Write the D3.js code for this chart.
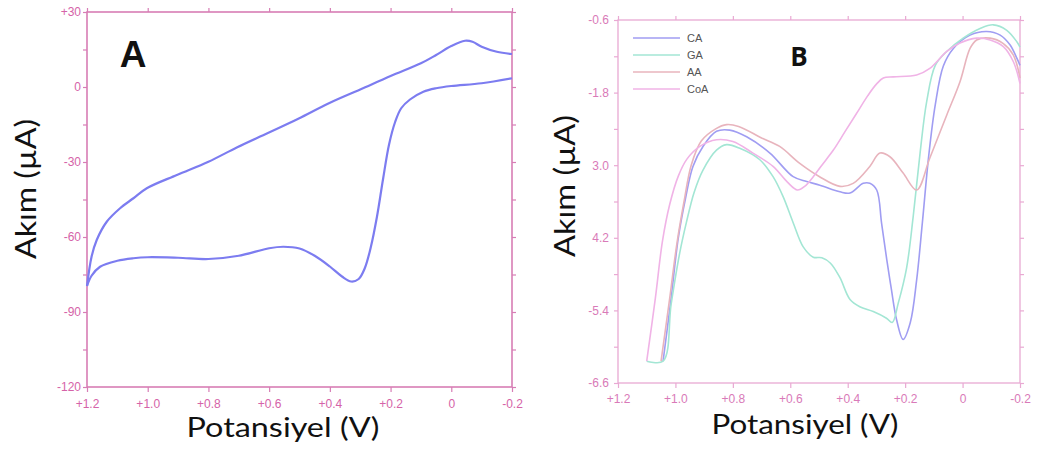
<!DOCTYPE html>
<html>
<head>
<meta charset="utf-8">
<script src="https://cdn.jsdelivr.net/npm/d3@7"></script>
<style>
  body { margin: 0; background: #fff; }
  svg { display: block; }
</style>
</head>
<body>
<svg id="chart" width="1037" height="450"></svg>
<script>
// ---- Axis ticks ----
const potentialTicks = [1.2, 1.0, 0.8, 0.6, 0.4, 0.2, 0, -0.2];
const potentialTickLabels = ["+1.2", "+1.0", "+0.8", "+0.6", "+0.4", "+0.2", "0", "-0.2"];

const currentTicksA = [30, 0, -30, -60, -90, -120];
const currentTickLabelsA = ["+30", "0", "-30", "-60", "-90", "-120"];
const currentMinorA = [15, -15, -45, -75, -105];

const currentTicksB = [-0.6, -1.8, -3.0, -4.2, -5.4, -6.6];
const currentTickLabelsB = ["-0.6", "-1.8", "3.0", "4.2", "-5.4", "-6.6"];
const currentMinorB = [-1.2, -2.4, -3.6, -4.8, -6.0];

// ---- Panel A: cyclic voltammogram, [potential V, current µA] ----
const cvUpperA = [
  [1.2, -79.6], [1.185, -67.9], [1.168, -61.2], [1.135, -53.9], [1.091, -48.5],
  [1.047, -44.5], [1.003, -40.5], [0.904, -35.2], [0.8, -29.9], [0.705, -24.1],
  [0.604, -18.4], [0.504, -12.7], [0.403, -6.5], [0.3, -1.0], [0.2, 4.4],
  [0.1, 9.5], [0.05, 12.8], [0.0, 16.4], [-0.045, 18.5], [-0.07, 18.1],
  [-0.1, 16.1], [-0.15, 14.1], [-0.2, 13.2]
];
const cvLowerA = [
  [1.2, -79.6], [1.185, -75.5], [1.157, -71.9], [1.1, -69.5], [1.047, -68.5],
  [1.0, -68.1], [0.9, -68.3], [0.8, -68.8], [0.7, -67.5], [0.6, -64.5],
  [0.553, -63.9], [0.5, -64.6], [0.45, -67.5], [0.4, -71.8], [0.36, -75.8],
  [0.33, -77.8], [0.305, -76.8], [0.285, -72.5], [0.265, -64.0], [0.245, -52.0],
  [0.225, -37.0], [0.205, -23.0], [0.185, -14.0], [0.165, -8.5], [0.136, -5.0],
  [0.092, -1.9], [0.05, -0.5], [0.0, 0.4], [-0.1, 1.5], [-0.2, 3.5]
];

// ---- Panel B: four acids, [potential V, current µA] ----
const seriesNamesB = ["CA", "GA", "AA", "CoA"];
const caB = [
  [1.043, -6.24], [1.015, -5.2], [0.99, -4.2], [0.965, -3.55],
  [0.939, -3.02], [0.904, -2.69], [0.857, -2.44], [0.811, -2.42], [0.752, -2.53],
  [0.671, -2.80], [0.59, -3.19], [0.543, -3.27], [0.497, -3.33], [0.427, -3.44],
  [0.392, -3.46], [0.346, -3.30], [0.323, -3.30], [0.299, -3.41], [0.282, -3.96],
  [0.264, -4.56], [0.248, -5.05], [0.230, -5.55], [0.207, -5.88], [0.182, -5.6],
  [0.16, -4.9], [0.14, -3.95], [0.118, -2.85], [0.095, -2.0], [0.067, -1.36],
  [0.032, -1.07], [-0.026, -0.85], [-0.084, -0.79], [-0.131, -0.85], [-0.165, -1.01],
  [-0.189, -1.23], [-0.2, -1.35]
];
const gaB = [
  [1.10, -6.24], [1.043, -6.24], [1.015, -5.3], [0.985, -4.45], [0.962, -3.95],
  [0.935, -3.45], [0.904, -3.08], [0.857, -2.75], [0.822, -2.66],
  [0.776, -2.72], [0.706, -2.91], [0.660, -3.19], [0.625, -3.52], [0.590, -3.95],
  [0.555, -4.35], [0.52, -4.52], [0.49, -4.53], [0.46, -4.62], [0.427, -4.86],
  [0.392, -5.22], [0.358, -5.34], [0.311, -5.42], [0.265, -5.53], [0.245, -5.6],
  [0.224, -5.28], [0.195, -4.7], [0.172, -3.85], [0.148, -2.8], [0.125, -1.95],
  [0.095, -1.35], [0.055, -1.12], [-0.002, -0.90], [-0.061, -0.74], [-0.107, -0.68],
  [-0.154, -0.77], [-0.189, -0.96], [-0.2, -1.05]
];
const aaB = [
  [1.05, -6.24], [1.02, -5.2], [0.995, -4.3], [0.97, -3.6],
  [0.945, -3.0], [0.91, -2.6], [0.86, -2.40], [0.822, -2.33], [0.78, -2.36],
  [0.70, -2.55], [0.637, -2.69], [0.567, -2.97], [0.498, -3.19], [0.427, -3.35],
  [0.381, -3.30], [0.323, -3.02], [0.288, -2.80], [0.253, -2.86], [0.207, -3.13],
  [0.16, -3.41], [0.114, -2.88], [0.055, -2.17], [0.009, -1.62], [-0.026, -1.07],
  [-0.049, -0.93], [-0.096, -0.90], [-0.142, -0.99], [-0.177, -1.18], [-0.2, -1.56]
];
const coaB = [
  [1.10, -6.24], [1.07, -5.2], [1.045, -4.25], [1.02, -3.65], [0.99, -3.18],
  [0.96, -2.9], [0.915, -2.69], [0.857, -2.58],
  [0.80, -2.61], [0.73, -2.80], [0.66, -3.02], [0.61, -3.28], [0.575, -3.41],
  [0.55, -3.35], [0.52, -3.19], [0.49, -3.0], [0.45, -2.75], [0.41, -2.45],
  [0.37, -2.15], [0.33, -1.85], [0.30, -1.66], [0.276, -1.56], [0.241, -1.54],
  [0.16, -1.51], [0.114, -1.40], [0.055, -1.12], [0.009, -0.98], [-0.049, -0.90],
  [-0.096, -0.93], [-0.142, -1.04], [-0.177, -1.29], [-0.2, -1.65]
];

const svg = d3.select("#chart");
const titleFont = "Lato, 'Open Sans', sans-serif";

function drawPanel(cfg) {
  const g = svg.append("g");
  const x = d3.scaleLinear().domain([1.2, -0.2]).range([cfg.left, cfg.right]);
  const y = d3.scaleLinear().domain(cfg.yDomain).range([cfg.top, cfg.bottom]);

  const styleAxis = sel => {
    sel.select(".domain").remove();
    sel.selectAll("line").attr("stroke", cfg.axisColor).attr("stroke-width", 1.2);
    sel.selectAll("text")
      .attr("fill", cfg.labelColor)
      .style("font-family", "'Liberation Sans', Arial, sans-serif")
      .style("font-size", "12px");
  };

  g.append("g").attr("transform", `translate(0,${cfg.bottom})`)
    .call(d3.axisBottom(x).tickValues(potentialTicks)
      .tickFormat((d, i) => potentialTickLabels[i]).tickSize(5).tickPadding(cfg.xPad))
    .call(styleAxis);
  g.append("g").attr("transform", `translate(0,${cfg.top})`)
    .call(d3.axisTop(x).tickValues(potentialTicks).tickFormat("").tickSize(4))
    .call(styleAxis);
  g.append("g").attr("transform", `translate(${cfg.left},0)`)
    .call(d3.axisLeft(y).tickValues(cfg.yTicks)
      .tickFormat((d, i) => cfg.yLabels[i]).tickSize(4).tickPadding(cfg.yPad))
    .call(styleAxis);
  g.append("g").attr("transform", `translate(${cfg.left},0)`)
    .call(d3.axisLeft(y).tickValues(cfg.yMinor).tickFormat("").tickSize(4))
    .call(styleAxis);
  g.append("g").attr("transform", `translate(${cfg.right},0)`)
    .call(d3.axisRight(y).tickValues(cfg.yTicks.concat(cfg.yMinor)).tickFormat("").tickSize(4))
    .call(styleAxis);

  // plot frame
  g.append("rect")
    .attr("x", cfg.left).attr("y", cfg.top)
    .attr("width", cfg.right - cfg.left).attr("height", cfg.bottom - cfg.top)
    .attr("fill", "none").attr("stroke", cfg.axisColor).attr("stroke-width", cfg.frameWidth);

  const line = d3.line()
    .x(d => x(d[0])).y(d => y(d[1]))
    .curve(d3.curveCatmullRom.alpha(0.5));

  cfg.series.forEach(s => {
    g.append("path").datum(s.data)
      .attr("d", line)
      .attr("fill", "none")
      .attr("stroke", s.color)
      .attr("stroke-width", s.width)
      .attr("stroke-linejoin", "round");
  });

  // axis titles
  g.append("text")
    .attr("x", cfg.xTitle[0]).attr("y", cfg.xTitle[1])
    .attr("text-anchor", "middle")
    .attr("textLength", cfg.xTitle[2]).attr("lengthAdjust", "spacingAndGlyphs")
    .style("font-family", titleFont).style("font-size", "26px").attr("fill", "#111")
    .text("Potansiyel (V)");
  g.append("text")
    .attr("transform", `translate(${cfg.yTitle[0]},${cfg.yTitle[1]}) rotate(-90)`)
    .attr("text-anchor", "middle")
    .attr("textLength", cfg.yTitle[2]).attr("lengthAdjust", "spacingAndGlyphs")
    .style("font-family", titleFont).style("font-size", "29px").attr("fill", "#111")
    .text("Akım (µA)");

  // panel letter
  g.append("text")
    .attr("x", cfg.letter[0]).attr("y", cfg.letter[1])
    .attr("text-anchor", "middle")
    .style("font-family", cfg.letter[3]).style("font-weight", "bold")
    .style("font-size", cfg.letter[2] + "px").attr("fill", "#111")
    .text(cfg.letter[4]);

  return { x, y, g };
}

// Panel A
drawPanel({
  left: 87, right: 512, top: 12, bottom: 387,
  yDomain: [30, -120],
  yTicks: currentTicksA, yLabels: currentTickLabelsA, yMinor: currentMinorA,
  axisColor: "#d77db5", labelColor: "#d563a8", frameWidth: 1.6,
  xPad: 7, yPad: 2,
  series: [
    { data: cvUpperA, color: "#7c7cf0", width: 2.2 },
    { data: cvLowerA, color: "#7c7cf0", width: 2.2 }
  ],
  xTitle: [283, 437, 193],
  yTitle: [36, 189, 140],
  letter: [133, 67, 37, "'Liberation Sans', Arial, sans-serif", "A"]
});

// Panel B
const colorsB = ["#a09df2", "#a3e6d4", "#e8b4bd", "#f0b3e6"];
const dataB = [caB, gaB, aaB, coaB];
const panelB = drawPanel({
  left: 618, right: 1020, top: 20, bottom: 383,
  yDomain: [-0.6, -6.6],
  yTicks: currentTicksB, yLabels: currentTickLabelsB, yMinor: currentMinorB,
  axisColor: "#e9a9d3", labelColor: "#d97ab8", frameWidth: 1.3,
  xPad: 6, yPad: 5,
  series: dataB.map((d, i) => ({ data: d, color: colorsB[i], width: 1.6 })),
  xTitle: [805, 434, 187],
  yTitle: [575, 186, 142],
  letter: [799, 66, 26, "'Open Sans', sans-serif", "B"]
});

// Legend for panel B
const legend = panelB.g.append("g").attr("transform", "translate(633,38)");
seriesNamesB.forEach((name, i) => {
  const row = legend.append("g").attr("transform", `translate(0,${i * 17})`);
  row.append("line").attr("x1", 0).attr("x2", 47).attr("y1", 0).attr("y2", 0)
    .attr("stroke", colorsB[i]).attr("stroke-width", 1.6);
  row.append("text").attr("x", 54).attr("y", 4)
    .style("font-family", "'Liberation Sans', Arial, sans-serif")
    .style("font-size", "11px").attr("fill", "#555")
    .text(name);
});
</script>
</body>
</html>
